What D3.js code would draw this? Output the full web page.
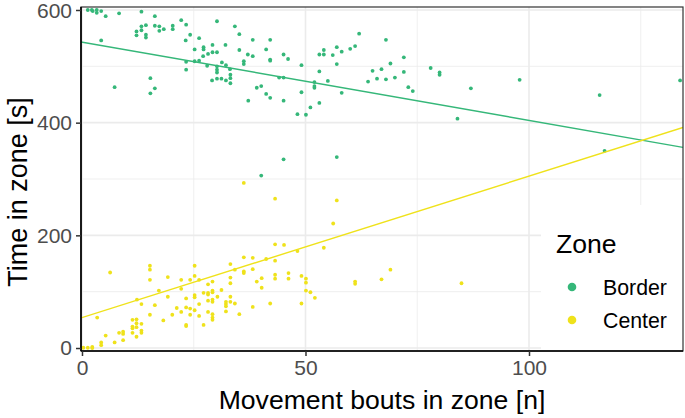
<!DOCTYPE html>
<html>
<head>
<meta charset="utf-8">
<script src="https://cdn.jsdelivr.net/npm/d3@7"></script>
<style>
  body { margin: 0; background: #fff; }
  text { font-family: "Liberation Sans", Arial, sans-serif; }
</style>
</head>
<body>
<div class="chart"></div>
<script>
// zones and their colours
var zones = ["Border", "Center"];
var zoneColors = ["#35B779", "#EFE21B"];

// [movement bouts, time in zone]
var borderPoints = [
  [1.3,600],[2.2,600],[2.4,598],[3.3,600],[3.3,595],[4.3,598],[5.3,589],[8.3,594],[13.3,597],[16.3,589],
  [4.3,546],[12.2,562],[12.2,555],[13.3,571],[13.3,564],[14.3,573],[14.3,556],[14.3,551],[16.3,572],[17.3,571],
  [17.3,563],[18.3,566],[20.3,572],[20.3,566],[22.2,582],[23.3,574],[24.2,556],[23.2,546],[26.2,550],[25.2,530],
  [27.2,534],[27.2,530],[27.1,518],[28.2,522],[26.2,510],[25.2,509],[23.3,508],[23.3,494],[28,501],[15.3,479],
  [16.3,461],[15.3,452],[7.3,463],
  [29.2,538],[29.2,525],[30.2,525],[30.2,580],[32.1,538],[34.2,571],[35.2,557],[35.2,529],[38.2,547],[37.1,521],
  [38.2,518],[42.1,547],[41.2,530],[42.1,512],[42.1,510],[36.2,509],[36.2,504],[31.3,507],[32.2,502],[30.2,500],
  [30.2,494],[30.2,489],[33.1,495],[33.2,485],[33.2,479],[33.2,470],[29.1,475],[30.2,478],[31.2,478],[32.2,475],
  [39.1,462],[40.1,465],[41.2,451],[42.1,444],[37.2,439],[45.1,439],[45.1,521],[46.1,513],[44.1,480],[45.1,480],
  [49.1,502],[49.1,454],[52,472],[52,465],[52,462],[53.1,491],[53.1,521],[54.1,521],[54.1,529],[53.1,435],[55,474],
  [48.2,415],[50.1,414],[51.1,427],[45.1,335],[40.1,306],[57,339],[58.1,453],[56.1,520],[57,534],[57,504],
  [58.1,526],[60,531],[61.1,536],[62,558],[68,547],[64,473],[65,492],[66,478],[67,495],[68,477],
  [69,505],[70,480],[72,516],[72,490],[73,463],[74,456],[78,497],[80,489],[80,485],[87,461],
  [84,407],[97.9,476],[115.8,449],[116.9,350],[133.8,475]
];

var centerPoints = [
  [0.3,0.5],[1.3,0.5],[2.3,2],[2.3,0],[4.3,10],[4.3,5],[5.3,22],[7.3,10],[3.4,54],[6.3,134],
  [8.3,27],[9.2,29],[9.2,25],[9.2,14],[11.3,50],[11.3,38],[11.3,35],[11.3,27],[12.2,51],[12.2,44],
  [12.2,37],[12.2,20],[13.3,43],[13.3,31],[13.3,27],[12.3,86],[13.3,78],[15.2,146],[15.2,139],[15.2,121],
  [15.2,59],[16.3,76],[17.2,102],[18.2,49],[19.2,126],[19.2,91],[20.2,59],[21.2,71],[22.2,121],[22.2,105],
  [22.2,64],[23.3,88],[23.3,72],[23.3,41],[23.3,39],[24.2,121],[24.2,70],[24.2,59],[25.2,146],[25.2,128],
  [25.2,94],[25.2,90],[25.2,67],[26.2,121],[26.2,78],[26.2,57],[27.2,98],[28.2,98],[28.2,113],[28.2,84],
  [28.2,64],[27.2,41],
  [43.2,184],[45.2,183],[48.2,172],[54.1,178],[36.2,161],[38.2,160],[41.2,158],[43.2,155],[33.2,149],[34.2,139],
  [36.2,136],[36.2,133],[38.2,140],[29.2,118],[33.2,125],[33.2,115],[39.1,118],[40.2,124],[40.2,107],[43.2,130],
  [43.2,123],[46.2,133],[46.2,123],[49.1,128],[50.1,123],[50.1,116],[50.1,102],[51.1,99],[52.1,89],[49.1,79],
  [42.1,79],[38.2,73],[35.2,60],[29.2,102],[29.2,99],[28.2,95],[31.2,103],[30.3,91],[29.2,86],[29.2,82],
  [33.2,91],[33.2,82],[32.2,82],[32.2,78],[32.2,74],[34.2,79],[32.2,65],[29.2,60],[29.2,54],[29.2,50],
  [36.2,293],[43.2,265],[57,262],[56.2,221],[61.1,118],[61.1,114],[67,122],[69,139],[84.9,115]
];

// linear fits (intercept, slope) per zone
var fitIntercept = [543, 54];
var fitSlope = [-1.39, 2.51];

var xMajor = [0, 50, 100];
var xMinor = [25, 75, 125];
var yMajor = [0, 200, 400, 600];
var yMinor = [100, 300, 500];

var width = 685;
var height = 418;
var margin = {top: 7, right: 2, bottom: 67, left: 81};

var svg = d3.select(".chart")
            .append("svg")
            .attr("width", width)
            .attr("height", height);

var xScale = d3.scaleLinear()
               .domain([-0.22, 134.45])
               .range([margin.left, width - margin.right]);

var yScale = d3.scaleLinear()
               .domain([-5.3, 605.3])
               .range([height - margin.bottom, margin.top]);

var x0 = margin.left, x1 = width - margin.right;
var y0 = margin.top, y1 = height - margin.bottom;

svg.append("clipPath").attr("id", "panel")
   .append("rect")
   .attr("x", x0).attr("y", y0)
   .attr("width", x1 - x0).attr("height", y1 - y0);

// grid
var grid = svg.append("g");

grid.selectAll(".vminor").data(xMinor).enter().append("line")
    .attr("x1", function(d) { return xScale(d); })
    .attr("x2", function(d) { return xScale(d); })
    .attr("y1", y0).attr("y2", y1)
    .attr("stroke", "#EBEBEB").attr("stroke-width", 0.8);

grid.selectAll(".hminor").data(yMinor).enter().append("line")
    .attr("y1", function(d) { return yScale(d); })
    .attr("y2", function(d) { return yScale(d); })
    .attr("x1", x0).attr("x2", x1)
    .attr("stroke", "#EBEBEB").attr("stroke-width", 0.8);

grid.selectAll(".vmajor").data(xMajor).enter().append("line")
    .attr("x1", function(d) { return xScale(d); })
    .attr("x2", function(d) { return xScale(d); })
    .attr("y1", y0).attr("y2", y1)
    .attr("stroke", "#EBEBEB").attr("stroke-width", 1.6);

grid.selectAll(".hmajor").data(yMajor).enter().append("line")
    .attr("y1", function(d) { return yScale(d); })
    .attr("y2", function(d) { return yScale(d); })
    .attr("x1", x0).attr("x2", x1)
    .attr("stroke", "#EBEBEB").attr("stroke-width", 1.6);

var panel = svg.append("g").attr("clip-path", "url(#panel)");

var series = [borderPoints, centerPoints];

series.forEach(function(pts, i) {
  panel.append("g")
       .selectAll("circle")
       .data(pts)
       .enter()
       .append("circle")
       .attr("cx", function(d) { return xScale(d[0]); })
       .attr("cy", function(d) { return yScale(d[1]); })
       .attr("r", 1.9)
       .attr("fill", zoneColors[i]);
});

var xd = xScale.domain();
zones.forEach(function(z, i) {
  panel.append("line")
       .attr("x1", xScale(xd[0]))
       .attr("y1", yScale(fitIntercept[i] + fitSlope[i] * xd[0]))
       .attr("x2", xScale(xd[1]))
       .attr("y2", yScale(fitIntercept[i] + fitSlope[i] * xd[1]))
       .attr("stroke", zoneColors[i])
       .attr("stroke-width", 1.4);
});

// legend
var legend = svg.append("g");

legend.append("rect")
      .attr("x", 541).attr("y", 205)
      .attr("width", x1 - 541).attr("height", y1 - 205)
      .attr("fill", "white");

legend.append("text")
      .text("Zone")
      .attr("x", 556).attr("y", 253)
      .attr("font-size", "26.6px")
      .attr("fill", "black");

var keys = legend.selectAll(".key")
                 .data(zones)
                 .enter()
                 .append("g")
                 .attr("transform", function(d, i) { return "translate(572," + (287 + i * 33) + ")"; });

keys.append("circle")
    .attr("r", 4.3)
    .attr("fill", function(d, i) { return zoneColors[i]; });

keys.append("text")
    .text(function(d) { return d; })
    .attr("x", 31).attr("dy", 7.5)
    .attr("font-size", "21.3px")
    .attr("fill", "black");

// panel border
svg.append("rect")
   .attr("x", x0).attr("y", y0)
   .attr("width", x1 - x0).attr("height", y1 - y0)
   .attr("fill", "none")
   .attr("stroke", "#333")
   .attr("stroke-width", 1.2);

// axes
var yAxis = d3.axisLeft(yScale).tickValues(yMajor).tickSize(5).tickPadding(4);
var xAxis = d3.axisBottom(xScale).tickValues(xMajor).tickSize(5).tickPadding(4);

var gy = svg.append("g")
            .attr("transform", "translate(" + x0 + ",0)")
            .call(yAxis);

var gx = svg.append("g")
            .attr("transform", "translate(0," + y1 + ")")
            .call(xAxis);

[gx, gy].forEach(function(g) {
  g.select(".domain").attr("stroke", "black").attr("stroke-width", 1.6);
  g.selectAll(".tick line").attr("stroke", "#333").attr("stroke-width", 1.5);
  g.selectAll(".tick text")
   .attr("fill", "#4D4D4D")
   .attr("font-size", "21px")
   .attr("font-family", "Liberation Sans, Arial, sans-serif");
});
gy.select(".domain").attr("d", "M0," + y0 + "V" + y1);
gx.select(".domain").attr("d", "M" + x0 + ",0H" + x1);
// keep the top label inside the picture
gy.selectAll(".tick text").attr("dy", function(d) { return d === 600 ? "0.38em" : "0.32em"; });

svg.append("text")
   .text("Movement bouts in zone [n]")
   .attr("x", (x0 + x1) / 2)
   .attr("y", 409)
   .attr("text-anchor", "middle")
   .attr("font-size", "26.6px")
   .attr("fill", "black");

svg.append("text")
   .text("Time in zone [s]")
   .attr("transform", "translate(27,192) rotate(-90)")
   .attr("text-anchor", "middle")
   .attr("font-size", "27px")
   .attr("fill", "black");
</script>
</body>
</html>
